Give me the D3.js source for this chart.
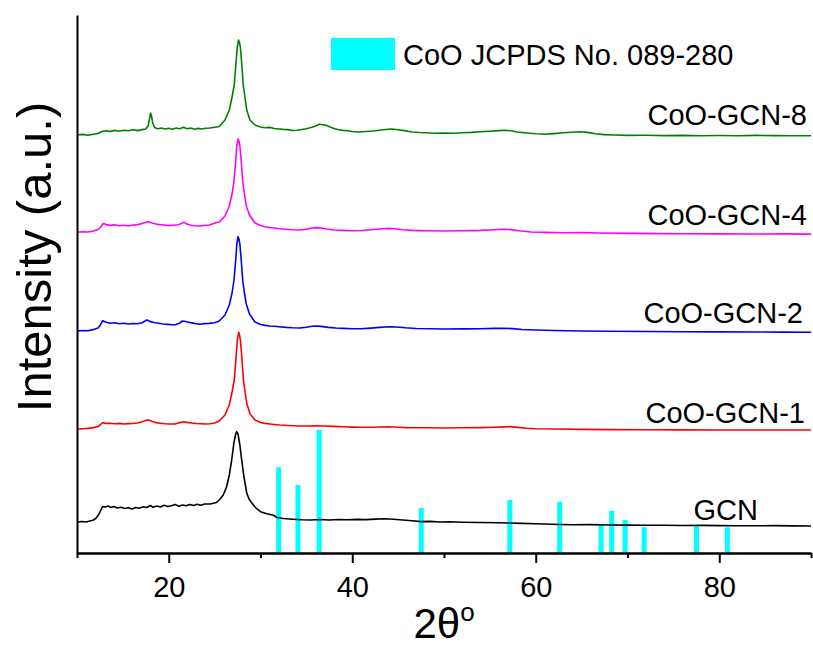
<!DOCTYPE html>
<html>
<head>
<meta charset="utf-8">
<script src="https://cdn.jsdelivr.net/npm/d3@7"></script>
<style>
  body { margin: 0; background: #fff; }
  svg { font-family: "Liberation Sans", Arial, sans-serif; }
  .axis path, .axis line { stroke: #000; stroke-width: 2; }
  .axis text { font-size: 29px; fill: #000; }
</style>
</head>
<body>
<svg id="chart"></svg>
<script>
// 2theta (deg) vs intensity (a.u., offset traces)
const gcn = [
  [10,30.7],[10.5,31.5],[11,31],[11.4,32],[11.8,33],[12.1,35],[12.4,39],[12.6,43],[12.8,46.5],[13.1,46],
  [13.4,47],[13.7,45.5],[14,46.5],[14.4,45],[14.8,45.8],[15.2,44.5],[15.6,45.2],[16,44],[16.4,45.5],[16.8,44.8],
  [17.2,46.2],[17.6,45.5],[18,47.5],[18.3,45.8],[18.7,47],[19.1,46],[19.5,47.8],[19.9,46.5],[20.3,47.2],[20.7,48.5],
  [21.1,46.8],[21.5,48],[21.9,47.2],[22.3,48.6],[22.7,47.5],[23.1,48.8],[23.5,47.8],[23.9,49],[24.5,49],[25.2,50.5],
  [25.6,54],[25.94,58],[26.3,66],[26.6,78],[26.86,93],[27.1,110],[27.3,119],[27.4,121.3],[27.55,119],[27.75,108],
  [27.95,93],[28.2,76],[28.5,60],[28.75,54],[29.05,50],[29.5,45],[30,41.3],[30.7,39.3],[31.4,37.8],[31.8,35.5],
  [32.5,34.5],[33.5,33.8],[34.5,33.2],[35.5,33],[36.5,33.5],[37.5,33],[38.5,33.5],[39.5,33.2],[40.5,33.6],[41.5,33.4],
  [42.5,33.9],[43.6,34.2],[44.5,33.8],[45.5,33],[46.5,32.3],[47.5,31.4],[48.5,31.6],[49.5,31],[50.6,31.2],[52,30.8],
  [54,30.5],[56,30.2],[57.2,30],[58.5,29.6],[60,29.2],[62.6,28.5],[64,28.3],[66,28.4],[68,28],[70,27.9],
  [72,27.7],[74,27.8],[76,27.5],[78,27.6],[80,27.4],[82,27.3],[84,27.2],[86,27.4],[88,27.1],[90,27]
];
const coo1 = [
  [10,123.7],[10.6,124.2],[11.2,124.6],[11.8,125.4],[12.3,126.5],[12.55,128.3],[12.8,130.3],[13.1,129.6],[13.6,129.7],[14.1,129.3],
  [14.6,129.6],[15.1,129],[15.6,129.4],[16.1,129.5],[16.6,130],[17.1,131.2],[17.5,132.6],[17.8,133],[18.2,131.5],[18.6,130.4],
  [19.1,129.8],[19.6,129.3],[20.1,129],[20.7,129],[21.2,130.4],[21.6,131.3],[22,130.6],[22.5,130],[23,129.5],[23.5,129.2],
  [24,129],[24.5,129.3],[25,130],[25.5,132],[26.13,138],[26.6,148],[26.9,161],[27.14,173],[27.33,195],[27.47,212],
  [27.62,220.7],[27.72,218],[27.82,212],[27.97,195],[28.14,173],[28.32,161],[28.52,149],[28.87,139],[29.4,133],[30,130.5],
  [30.5,129.6],[31,129],[31.5,128.5],[32.1,128],[33,127.5],[34.3,127],[35,127],[36,127.3],[37,127],[38,126.6],
  [39,126.2],[40,125.9],[41,125.7],[42,125.8],[43,126],[44,126.2],[45,125.8],[46,125.4],[48,125.2],[50,125],
  [52,125.2],[54,125.4],[55.5,125.7],[56.5,126.1],[57.2,126.4],[58,125.6],[59,124.8],[60,124.3],[62,124],[65,123.6],
  [68,123.4],[72,123.2],[76,123.1],[80,123],[85,123],[90,123]
];
const coo2 = [
  [10,222],[10.6,222.5],[11.2,222.3],[11.8,223.4],[12.3,225],[12.55,228],[12.8,232.3],[13.1,231],[13.6,229.7],[14.1,230.3],
  [14.6,229.3],[15.1,229.8],[15.6,229],[16.1,229.5],[16.6,229.2],[17.1,230.3],[17.6,233],[18,231.4],[18.4,230.5],[18.9,229.8],
  [19.4,229],[19.9,228.6],[20.4,228.3],[20.8,228.4],[21.2,230],[21.5,232],[21.8,231.5],[22.3,230.5],[22.8,229.6],[23.4,228.7],
  [23.9,229.4],[24.4,229.6],[25,230.3],[25.5,232],[26.13,238],[26.6,248],[26.9,260],[27.1,272],[27.3,293],[27.42,309],
  [27.55,316.3],[27.65,314],[27.75,309],[27.9,293],[28.07,272],[28.25,260],[28.45,249],[28.8,239],[29.4,231],[30,228.5],
  [30.5,227.6],[31,227],[31.5,226.8],[32,226.3],[32.8,225.6],[33.5,225.2],[34.3,225],[35,225.8],[35.6,226.8],[36.1,227],
  [36.6,226.6],[37.4,225.6],[38.2,225],[39,224.6],[40,224.2],[41,224.3],[42,224.9],[43,225.6],[44,226.3],[44.8,226],
  [45.8,225.2],[47,224.5],[48.5,224.2],[50,224],[52,224.1],[54,224.3],[55.5,224.6],[56.5,224.8],[57.5,224.4],[58.5,223.5],
  [60,223],[62,222.5],[65,222],[68,221.8],[72,221.5],[76,221.3],[80,221.1],[84,221],[87,220.9],[90,220.7]
];
const coo4 = [
  [10,320.7],[10.6,321.3],[11.2,321],[11.8,322],[12.3,323.5],[12.6,326],[12.85,329.5],[13.2,328.4],[13.6,327.6],[14.1,328.2],
  [14.6,327.2],[15.1,327.8],[15.6,327],[16.1,328],[16.6,328.4],[17.1,329.5],[17.5,330.8],[17.8,331.2],[18.2,330],[18.6,329],
  [19,328.4],[19.5,328],[20,327.4],[20.5,327.8],[21,328.2],[21.4,329.6],[21.65,330.8],[21.9,329.2],[22.3,328],[22.8,327.3],
  [23.4,327],[23.9,327.6],[24.4,328],[24.9,329.5],[25.2,330.5],[25.5,331],[26.13,337],[26.6,347],[26.9,359],[27.1,371],
  [27.3,392],[27.42,407],[27.55,414],[27.65,412],[27.75,407],[27.9,392],[28.07,371],[28.25,359],[28.45,347],[28.8,338],
  [29.4,330],[30,327.5],[30.5,326.3],[31,325.5],[31.5,325],[32,324.3],[32.7,323.8],[33.5,323.2],[34.3,323],[35,323.8],
  [35.6,325],[36.1,325.4],[36.6,325],[37.2,324],[38,323],[39,322.6],[40,322.3],[41,322.5],[42,323.2],[43,324],
  [44,324.6],[44.6,324.2],[45.5,323.3],[46.5,322.6],[48,322.3],[50,322],[52,322.3],[54,322.6],[55.5,323.2],[56.5,323.8],
  [57.3,323.4],[58.2,322.2],[59.5,321],[61,320.6],[63,320.3],[65,320.4],[67,320],[70,319.6],[73,319.4],[76,319.3],
  [80,319.1],[84,319],[87,319.1],[90,318.9]
];
const coo8 = [
  [10,418],[10.6,418.6],[11.2,417.8],[11.8,418.8],[12.3,419.5],[12.7,421.5],[13.1,422.3],[13.6,421.6],[14.1,422.6],[14.6,421.8],
  [15.1,422.8],[15.6,422.2],[16.1,423.2],[16.6,422.4],[17.1,423.4],[17.5,424],[17.75,427],[17.9,434],[18.02,440],[18.12,437],
  [18.25,430],[18.45,425.5],[18.8,424.2],[19.2,425],[19.6,424],[20,424.8],[20.4,423.8],[20.8,425],[21.2,424.2],[21.6,425.8],
  [22,424.3],[22.4,424.9],[22.8,423.8],[23.2,424.6],[23.6,424],[24,424.8],[24.5,425],[25,425.8],[25.5,426.5],[26.13,433],
  [26.6,443],[26.9,456],[27.14,468],[27.33,490],[27.47,506],[27.6,513],[27.7,511],[27.8,506],[27.95,490],[28.12,468],
  [28.3,456],[28.5,443],[28.85,433],[29.4,428],[30,426],[30.5,425.3],[31,425.6],[31.5,424.5],[32,424],[32.5,423.6],
  [33,423.4],[33.5,422.5],[34,422.8],[34.5,423.5],[35,424.3],[35.5,425.5],[36,427],[36.4,428.8],[36.8,428.2],[37.2,427.6],
  [37.6,426],[38,424.5],[38.5,423.3],[39,422.6],[39.5,422.2],[40,421.5],[40.8,421],[41.5,421.5],[42.2,422],[43,422.8],
  [43.6,423.5],[44.3,424],[45,423.2],[45.7,422.4],[46.5,421],[47.3,420.5],[48,420.3],[49,419.8],[50,420],[51,419.7],
  [52,420.3],[53,420.6],[54,421.2],[55,421.8],[56,422.4],[56.6,422.7],[57.3,422.2],[58,421],[59,420],[60,419.2],
  [61,418.8],[62,419.4],[63,420.2],[64,420.8],[64.8,421.2],[65.6,420.6],[66.5,419.2],[67.5,418.4],[68.5,418],[70,417.6],
  [72,417.7],[74,417.4],[76,417.6],[78,417.3],[80,417.5],[82,417.3],[84,417.6],[86,417.4],[88,417.3],[90,417.3]
];

const seriesNames = ["GCN", "CoO-GCN-1", "CoO-GCN-2", "CoO-GCN-4", "CoO-GCN-8"];
const seriesColors = ["#000000", "#ff0000", "#0000ff", "#ff00ff", "#008000"];

// CoO JCPDS No. 089-280 reference lines
const refPositions = [31.98, 34.08, 36.39, 47.52, 57.18, 62.61, 67.12, 68.28, 69.74, 71.81, 77.51, 80.88];
const refIntensities = [69.7, 55.3, 100, 36.6, 43.1, 41.7, 22.8, 34.4, 26.8, 20.9, 22, 20.9];

const majorTicks = [20, 40, 60, 80];
const minorTicks = [10, 30, 50, 70, 90];

const W = 813, H = 646;
const margin = { top: 15, right: 2, bottom: 93, left: 77 };

const svg = d3.select("#chart").attr("width", W).attr("height", H);

const x = d3.scaleLinear().domain([10, 90]).range([margin.left, W - margin.right]);
const y = d3.scaleLinear().domain([0, 538]).range([H - margin.bottom, margin.top]);
const yRef = d3.scaleLinear().domain([0, 100]).range([H - margin.bottom, 430]);

// reference bars
svg.append("g")
  .selectAll("rect")
  .data(refPositions)
  .enter()
  .append("rect")
  .attr("x", (d) => x(d) - 2.5)
  .attr("width", 5)
  .attr("y", (d, i) => yRef(refIntensities[i]))
  .attr("height", (d, i) => yRef(0) - yRef(refIntensities[i]))
  .attr("fill", "#00ffff");

// traces
const line = d3.line().x((d) => x(d[0])).y((d) => y(d[1]));
const allSeries = [gcn, coo1, coo2, coo4, coo8];
svg.append("g")
  .selectAll("path")
  .data(allSeries)
  .enter()
  .append("path")
  .attr("d", line)
  .attr("fill", "none")
  .attr("stroke", (d, i) => seriesColors[i])
  .attr("stroke-width", 1.6)
  .attr("stroke-linejoin", "round");

// trace labels
const labelPos = [[758, 520], [805, 423], [803, 323], [807, 225], [807, 125]];
svg.append("g")
  .selectAll("text")
  .data(seriesNames)
  .enter()
  .append("text")
  .attr("x", (d, i) => labelPos[i][0])
  .attr("y", (d, i) => labelPos[i][1])
  .attr("text-anchor", "end")
  .attr("font-size", 29)
  .text((d) => d);

// axes
const xAxis = d3.axisBottom(x).tickValues(majorTicks).tickSize(10).tickSizeOuter(0).tickFormat(d3.format("d"));
const xMinor = d3.axisBottom(x).tickValues(minorTicks).tickSize(5).tickSizeOuter(0).tickFormat("");

const gx = svg.append("g")
  .attr("class", "axis")
  .attr("transform", "translate(0," + (H - margin.bottom) + ")")
  .call(xAxis);
gx.selectAll("text").attr("y", 44).attr("dy", 0);

svg.append("g")
  .attr("class", "axis")
  .attr("transform", "translate(0," + (H - margin.bottom) + ")")
  .call(xMinor);

svg.append("g")
  .attr("class", "axis")
  .attr("transform", "translate(" + margin.left + ",0)")
  .call(d3.axisLeft(y).tickValues([]).tickSizeOuter(0));

// axis titles
const xt = svg.append("text")
  .attr("x", (margin.left + W - margin.right) / 2)
  .attr("y", 638)
  .attr("text-anchor", "middle")
  .attr("font-size", 42);
xt.append("tspan").text("2\u03b8");
xt.append("tspan").attr("font-size", 26).attr("dy", -17).text("o");

svg.append("text")
  .attr("transform", "translate(51," + 257 + ") rotate(-90)")
  .attr("text-anchor", "middle")
  .attr("font-size", 49)
  .text("Intensity (a.u.)");

// legend
svg.append("rect").attr("x", 331).attr("y", 38).attr("width", 64).attr("height", 32).attr("fill", "#00ffff");
svg.append("text").attr("x", 403).attr("y", 65).attr("font-size", 29).text("CoO JCPDS No. 089-280");
</script>
</body>
</html>
